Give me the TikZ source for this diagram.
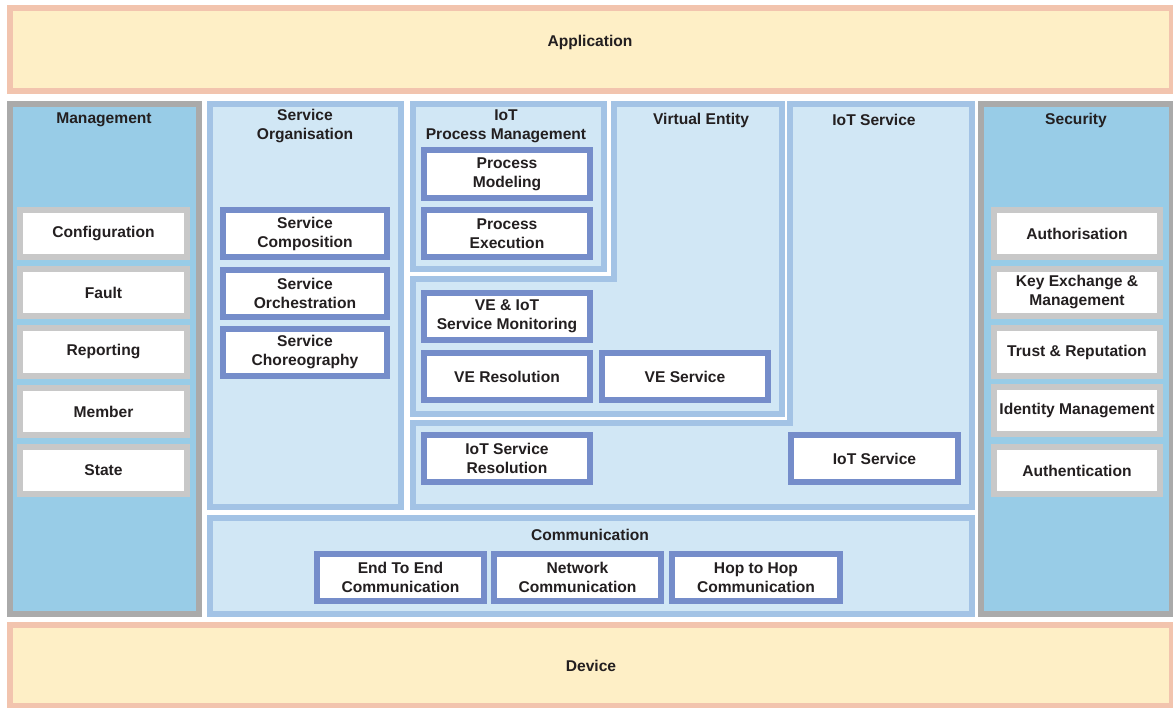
\documentclass[tikz,border=0pt]{standalone}
\usepackage{fontspec}
\setmainfont{Liberation Sans}
\definecolor{pinkb}{HTML}{F2C4AE}
\definecolor{creamf}{HTML}{FEEFC6}
\definecolor{greyb}{HTML}{AAAAAA}
\definecolor{skyf}{HTML}{98CCE7}
\definecolor{lgrey}{HTML}{C8C8C8}
\definecolor{fgb}{HTML}{A3C3E5}
\definecolor{fgf}{HTML}{D1E7F5}
\definecolor{frameblue}{HTML}{758DCA}
\definecolor{ink}{HTML}{231F20}
% framed box given by its outer corners (x1,y1)-(x2,y2); border is 6pt wide
\newcommand\rbox[7]{%
  \node[#2, anchor=north west,
        minimum width=#5pt-#3pt-6pt, minimum height=#6pt-#4pt-6pt]
        (#1) at (#3+3,#4+3) {#7};}
\begin{document}
\begin{tikzpicture}[x=1pt,y=-1pt,
  base/.style={inner sep=0pt, outer sep=0pt, line width=6pt, text=ink,
    font=\fontsize{15.6}{19}\selectfont\bfseries, align=center},
  layerbox/.style={base, draw=pinkb, fill=creamf},
  sidebox/.style={base, draw=greyb, fill=skyf},
  grpbox/.style={base, draw=fgb, fill=fgf},
  subbox/.style={base, draw=lgrey, fill=white},
  fnbox/.style={base, draw=frameblue, fill=white},
  title/.style={base, line width=0pt}]
\useasboundingbox (0,0) rectangle (1173,708);
\fill[white] (0,0) rectangle (1173,708);

% horizontal layers
\rbox{app}{layerbox}{7}{5}{1175}{94}{}
\node[title] (app-t) at (590,42) {Application};
\rbox{dev}{layerbox}{7}{622}{1175}{709}{Device}

% Management column
\rbox{mgt}{sidebox}{7}{101}{202}{617}{}
\node[title] (mgt-t) at (104,120) {Management};
\rbox{cfg}{subbox}{17}{207}{190}{260}{Configuration}
\rbox{flt}{subbox}{17}{266}{190}{319}{Fault}
\rbox{rep}{subbox}{17}{325}{190}{379}{Reporting}
\rbox{mem}{subbox}{17}{385}{190}{438}{Member}
\rbox{sta}{subbox}{17}{444}{190}{497}{State}

% Security column
\rbox{sec}{sidebox}{978}{101}{1175}{617}{}
\node[title] (sec-t) at (1076,120) {Security};
\rbox{aut}{subbox}{991}{207}{1163}{260}{Authorisation}
\rbox{key}{subbox}{991}{266}{1163}{319}{Key Exchange \&\\Management}
\rbox{tru}{subbox}{991}{325}{1163}{379}{Trust \& Reputation}
\rbox{idm}{subbox}{991}{384}{1163}{437}{Identity Management}
\rbox{ath}{subbox}{991}{444}{1163}{497}{Authentication}

% Service Organisation
\rbox{sorg}{grpbox}{207}{101}{404}{510}{}
\node[title] (sorg-t) at (305,126) {Service\\Organisation};
\rbox{scomp}{fnbox}{220}{207}{390}{260}{Service\\Composition}
\rbox{sorch}{fnbox}{220}{267}{390}{320}{Service\\Orchestration}
\rbox{schor}{fnbox}{220}{326}{390}{379}{Service\\Choreography}

% IoT Service (L-shaped group)
\path[draw=fgb, fill=fgf, line width=6pt]
  (790,104) -- (972,104) -- (972,507) -- (413,507) -- (413,423) -- (790,423) -- cycle;
\node[title] (ios-t) at (874,120) {IoT Service};

% Virtual Entity (L-shaped group)
\path[draw=fgb, fill=fgf, line width=6pt]
  (614,104) -- (782,104) -- (782,414) -- (413,414) -- (413,279) -- (614,279) -- cycle;
\node[title] (ve-t) at (701,120) {Virtual Entity};

% IoT Process Management
\rbox{ipm}{grpbox}{410}{101}{607}{272}{}
\node[title] (ipm-t) at (506,126) {IoT\\Process Management};
\rbox{pmod}{fnbox}{421}{147}{593}{201}{Process\\Modeling}
\rbox{pexe}{fnbox}{421}{207}{593}{260}{Process\\Execution}

% Virtual Entity functions
\rbox{vemon}{fnbox}{421}{290}{593}{343}{VE \& IoT\\Service Monitoring}
\rbox{veres}{fnbox}{421}{350}{593}{403}{VE Resolution}
\rbox{vesrv}{fnbox}{599}{350}{771}{403}{VE Service}

% IoT Service functions
\rbox{isres}{fnbox}{421}{432}{593}{485}{IoT Service\\Resolution}
\rbox{issrv}{fnbox}{788}{432}{961}{485}{IoT Service}

% Communication
\rbox{com}{grpbox}{207}{515}{975}{617}{}
\node[title] (com-t) at (590,535) {Communication};
\rbox{e2e}{fnbox}{314}{551}{487}{604}{End To End\\Communication}
\rbox{net}{fnbox}{491}{551}{664}{604}{Network\\Communication}
\rbox{h2h}{fnbox}{669}{551}{843}{604}{Hop to Hop\\Communication}
\end{tikzpicture}
\end{document}
